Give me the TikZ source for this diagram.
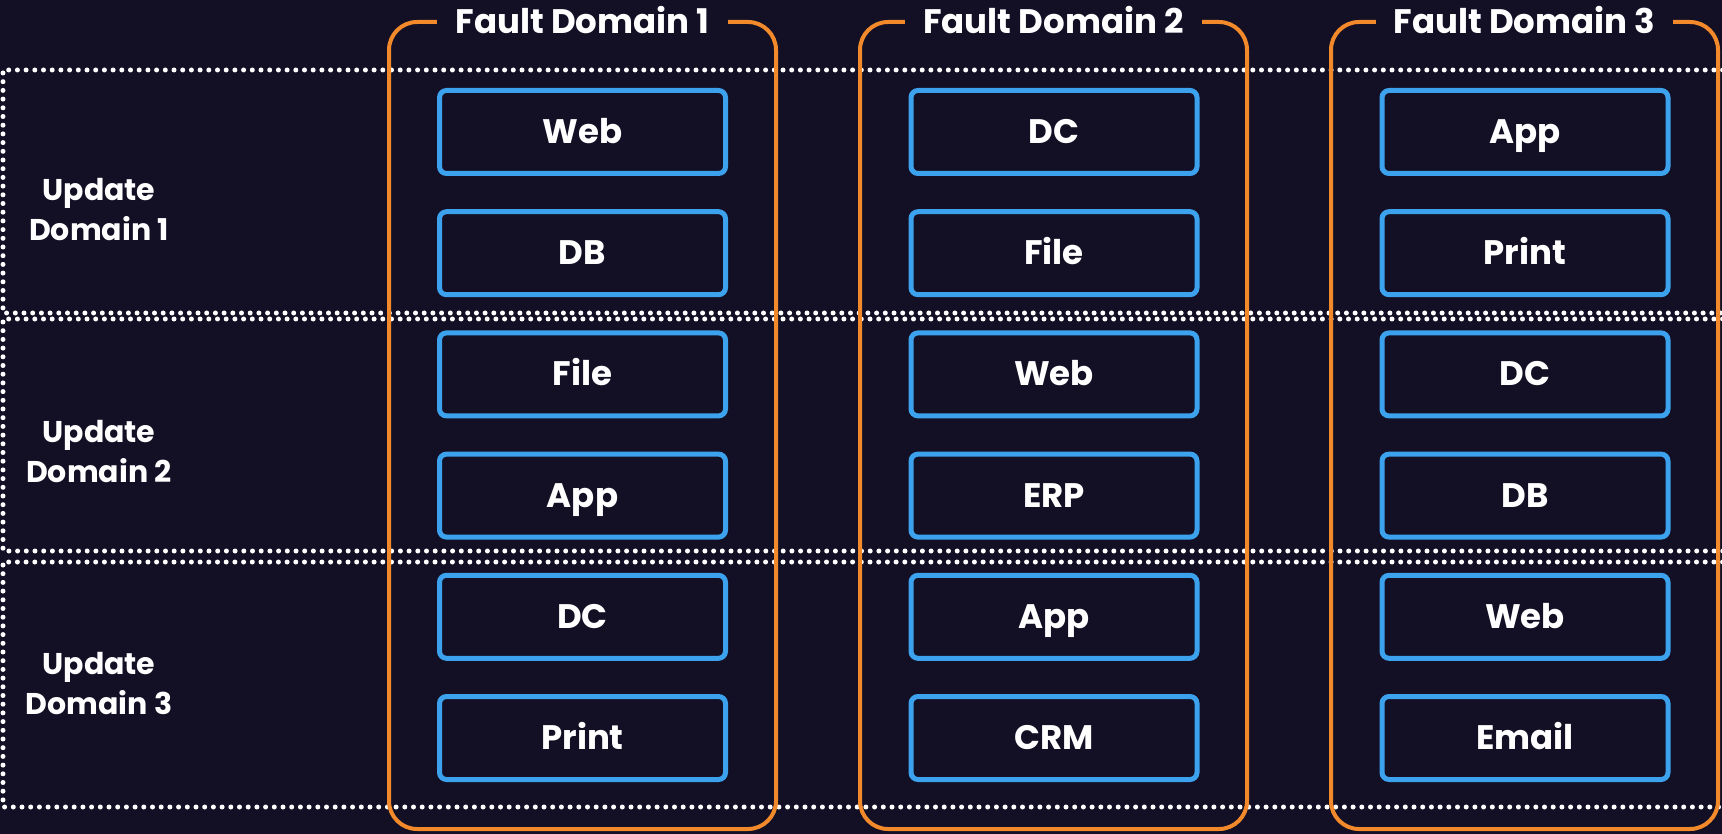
\documentclass[tikz,border=0pt]{standalone}
\usepackage{fontspec}
\setmainfont{Poppins}
\usetikzlibrary{chains,positioning}
\definecolor{panelbg}{HTML}{130F25}
\definecolor{faultorange}{HTML}{F28A2B}
\definecolor{vmblue}{HTML}{3DA2EE}

\begin{document}
\begin{tikzpicture}[
  x=1pt,y=-1pt,
  dotline/.style={draw=white,line width=5pt,line cap=round,dash pattern=on 0pt off 8.7pt},
  faultframe/.style={draw=faultorange,line width=4pt,rounded corners=28pt,
    minimum width=387pt,minimum height=807pt},
  faulttitle/.style={fill=panelbg,text=white,inner xsep=18pt,
    font=\bfseries\fontsize{34}{40}\selectfont},
  updlabel/.style={text=white,align=center,font=\bfseries\fontsize{30}{40}\selectfont},
  ]
  \useasboundingbox (0,0) rectangle (1722,834);
  \fill[panelbg] (0,0) rectangle (1722,834);
  \begin{scope}
    \clip (0,0) rectangle (1722,834);
    \draw[dotline] (1740,70)  -| (3,313) -- (1740,313);
    \draw[dotline] (1740,319) -| (3,551) -- (1740,551);
    \draw[dotline] (1740,562) -| (3,807) -- (1740,807);
  \end{scope}
  \node[updlabel] (upd1) at (99,210) {Update\\Domain 1};
  \node[updlabel] (upd2) at (99,452) {Update\\Domain 2};
  \node[updlabel] (upd3) at (99,684) {Update\\Domain 3};
  \node[faultframe] (fault1) at (582.5,425.5) {};
  \node[faultframe] (fault2) at (1053.5,425.5) {};
  \node[faultframe] (fault3) at (1524.5,425.5) {};
  \node[faulttitle] (fault1-title) at (fault1.north) {Fault Domain 1};
  \node[faulttitle] (fault2-title) at (fault2.north) {Fault Domain 2};
  \node[faulttitle] (fault3-title) at (fault3.north) {Fault Domain 3};
  \coordinate (fault1-start) at (582.5,54.8);
  \coordinate (fault2-start) at (1054,54.8);
  \coordinate (fault3-start) at (1525,54.8);
  \begin{scope}[
    every node/.style={
      draw=vmblue,
      line width=5pt,
      rounded corners=7pt,
      on chain,
      minimum width=286pt,
      minimum height=83pt,
      text height=25pt,
      text depth=2pt,
      text=white,
      font=\bfseries\fontsize{34}{40}\selectfont,
    },
    node distance=33.2pt,
    start chain=going below,
    ]
    \chainin (fault1-start);
    \node (f1-web)   {Web};
    \node (f1-db)    {DB};
    \node (f1-file)  {File};
    \node (f1-app)   {App};
    \node (f1-dc)    {DC};
    \node (f1-print) {Print};
    \chainin (fault2-start);
    \node (f2-dc)    {DC};
    \node (f2-file)  {File};
    \node (f2-web)   {Web};
    \node (f2-erp)   {ERP};
    \node (f2-app)   {App};
    \node (f2-crm)   {CRM};
    \chainin (fault3-start);
    \node (f3-app)   {App};
    \node (f3-print) {Print};
    \node (f3-dc)    {DC};
    \node (f3-db)    {DB};
    \node (f3-web)   {Web};
    \node (f3-email) {Email};
  \end{scope}
\end{tikzpicture}
\end{document}
